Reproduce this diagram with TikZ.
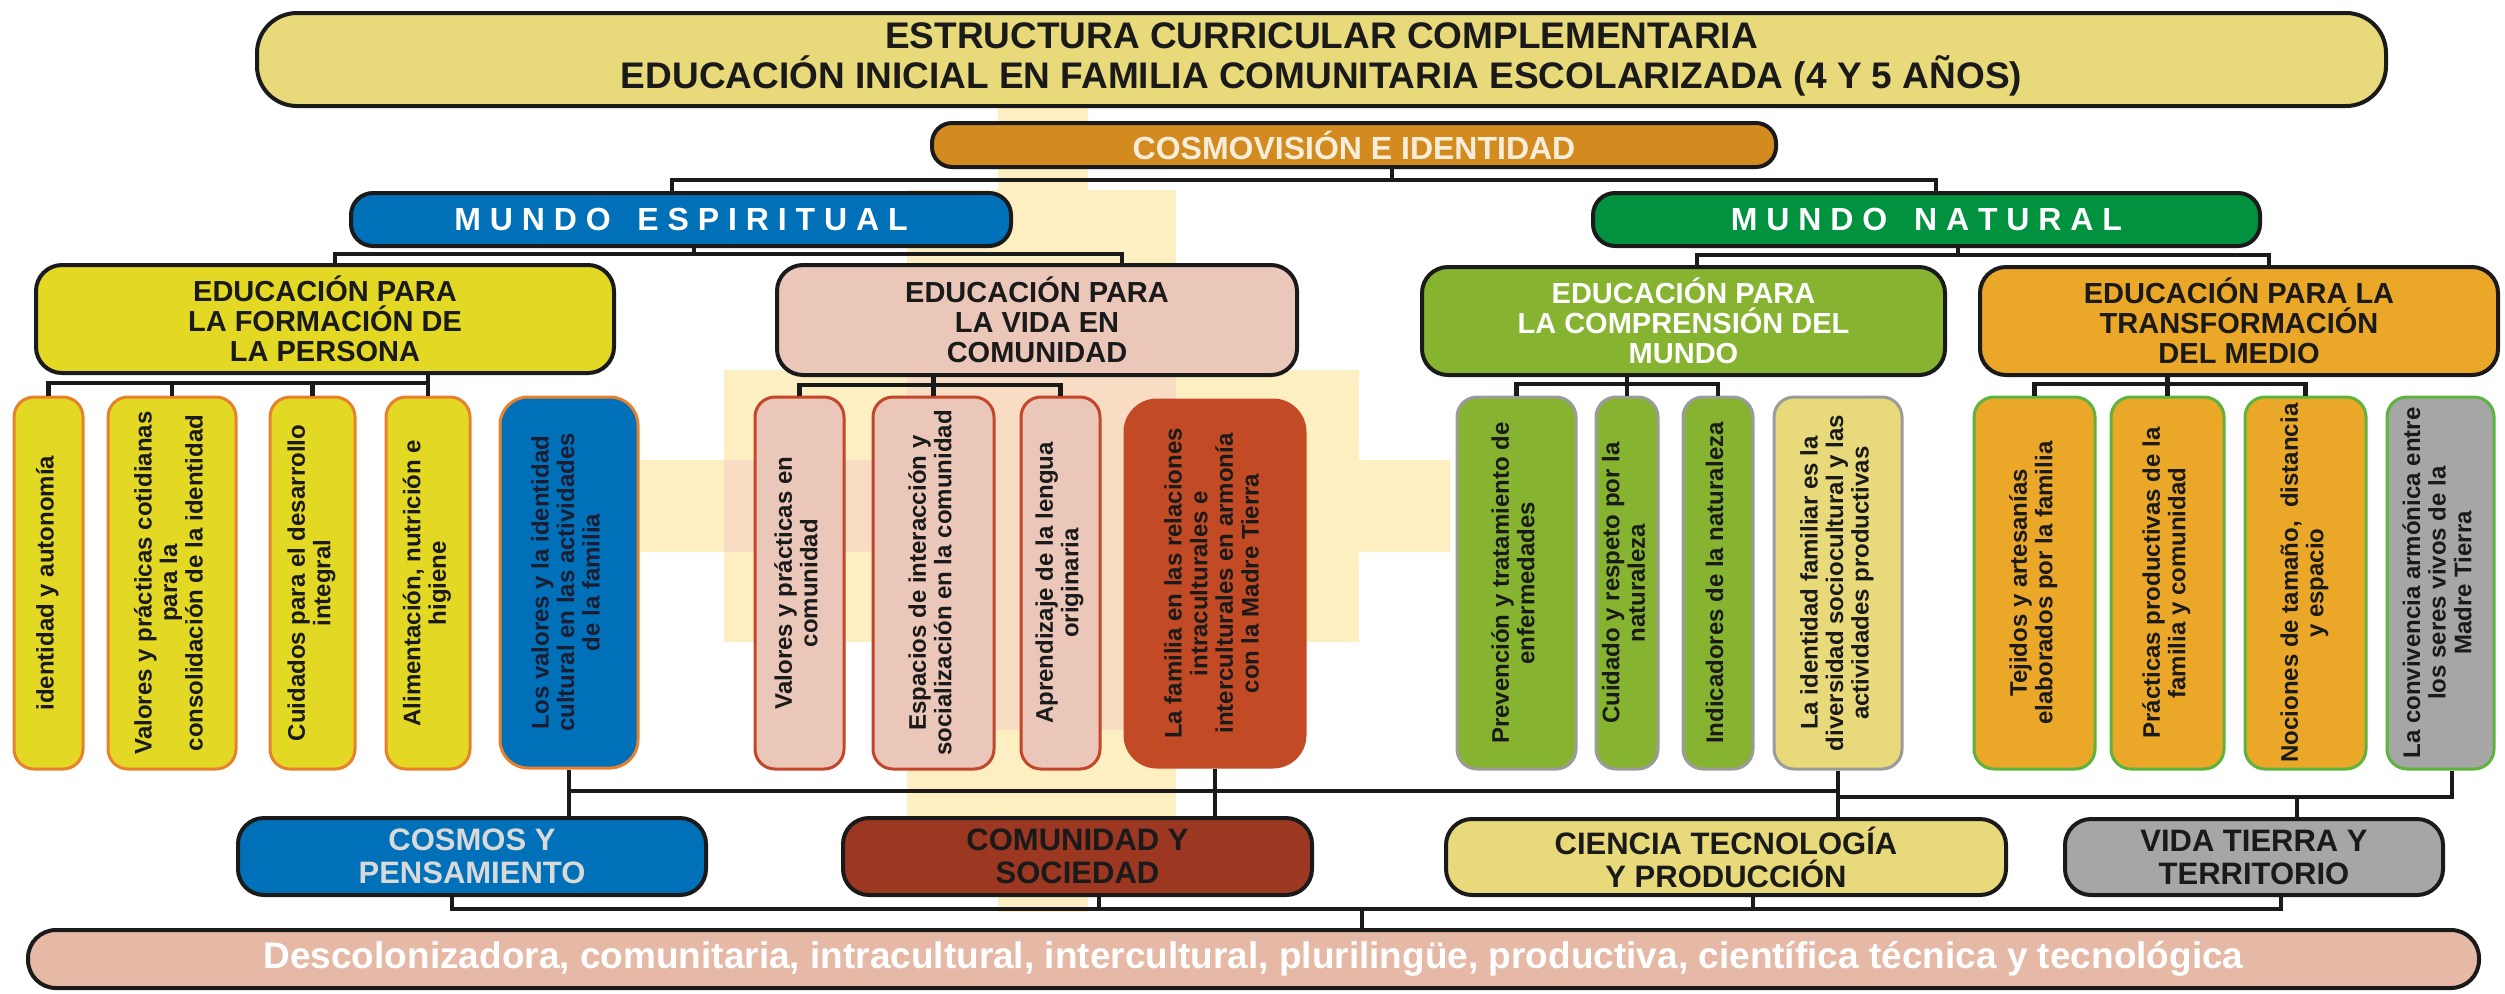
\documentclass[tikz,border=0pt]{standalone}
\usepackage{fontspec}
\usepackage{graphicx}
\setmainfont{Liberation Sans}
\definecolor{ctitle}{HTML}{E8D97A}
\definecolor{ccosmo}{HTML}{D38B1F}
\definecolor{ccream}{HTML}{F6EEDA}
\definecolor{cblue}{HTML}{0071B9}
\definecolor{cgreen}{HTML}{00923F}
\definecolor{cyellow}{HTML}{E3D824}
\definecolor{cpink}{HTML}{EBC7B9}
\definecolor{clime}{HTML}{86B330}
\definecolor{corange}{HTML}{EBA728}
\definecolor{cbord1}{HTML}{E8812C}
\definecolor{cbord2}{HTML}{C4452A}
\definecolor{cred}{HTML}{C24A24}
\definecolor{cbord3}{HTML}{9B9B9B}
\definecolor{cbord4}{HTML}{5DB33C}
\definecolor{cgray}{HTML}{A6A6A6}
\definecolor{cbrown}{HTML}{9C3722}
\definecolor{cband}{HTML}{E6B8A6}
\definecolor{clgray}{HTML}{D9D9D9}
\definecolor{cpale}{HTML}{FDEFC2}
\definecolor{cpalepink}{HTML}{F9DCC4}
\definecolor{cdark}{HTML}{1A1A1A}
\definecolor{cnavy}{HTML}{1B1D33}
\tikzset{
  conn/.style={line width=2.3pt, draw=cdark},
  bbox/.style={draw=cdark, line width=2pt, inner sep=0pt, align=center, text=cdark},
  educ/.style={bbox, rounded corners=13pt, font=\fontsize{14.5}{15}\selectfont\bfseries},
  lowbox/.style={bbox, rounded corners=13pt, font=\fontsize{15.5}{16.5}\selectfont\bfseries},
  mundo/.style={bbox, rounded corners=11pt, text=white, font=\fontsize{16}{17}\selectfont\bfseries},
  pil/.style={line width=1.5pt, rounded corners=10pt, inner sep=0pt, text=cdark,
    font=\fontsize{12}{12.8}\selectfont\bfseries},
}
\newcommand\bx[7]{\node[#6, minimum width={(#4-#2)*0.5pt}, minimum height={(#5-#3)*0.5pt}] (#1) at ({(#2+#4)/2},{(#3+#5)/2}) {#7};}
\newcommand\vt[1]{\rotatebox{90}{\begin{tabular}{@{}c@{}}#1\end{tabular}}}
\begin{document}
\begin{tikzpicture}[x=0.5pt,y=-0.5pt]
\useasboundingbox (0,0) rectangle (2505,993);
% background chakana
\fill[cpale] (998,107) -- (1088,107) -- (1088,190) -- (1176,190) -- (1176,370) -- (1359,370) -- (1359,460) -- (1450,460) -- (1450,552) -- (1359,552) -- (1359,642) -- (1176,642) -- (1176,818) -- (1088,818) -- (1088,912) -- (998,912) -- (998,818) -- (907,818) -- (907,642) -- (724,642) -- (724,552) -- (640,552) -- (640,460) -- (724,460) -- (724,370) -- (907,370) -- (907,190) -- (998,190) -- cycle;
\fill[cpalepink] (907,370) rectangle (1176,730);
\fill[cpalepink] (724,460) rectangle (1176,552);

% title and top levels
\bx{title}{257}{13}{2386}{106}{bbox, fill=ctitle, rounded corners=20pt, font=\fontsize{18.5}{20}\selectfont\bfseries}{ESTRUCTURA CURRICULAR COMPLEMENTARIA\\EDUCACIÓN INICIAL EN FAMILIA COMUNITARIA ESCOLARIZADA (4 Y 5 AÑOS)}
\bx{cosmo}{932}{123}{1776}{167}{bbox, fill=ccosmo, rounded corners=10pt, text=ccream, font=\fontsize{16}{17}\selectfont\bfseries}{COSMOVISIÓN E IDENTIDAD}
\bx{m1}{351}{193}{1011}{246}{mundo, fill=cblue}{M U N D O\ \ \ E S P I R I T U A L}
\bx{m2}{1593}{193}{2260}{246}{mundo, fill=cgreen}{M U N D O\ \ \ N A T U R A L}

\bx{e1}{36}{265}{614}{373}{educ, fill=cyellow}{EDUCACIÓN PARA\\LA FORMACIÓN DE\\LA PERSONA}
\bx{e2}{777}{265}{1297}{375}{educ, fill=cpink}{EDUCACIÓN PARA\\LA VIDA EN\\COMUNIDAD}
\bx{e3}{1422}{267}{1945}{375}{educ, fill=clime, text=white}{EDUCACIÓN PARA\\LA COMPRENSIÓN DEL\\MUNDO}
\bx{e4}{1980}{267}{2498}{375}{educ, fill=corange}{EDUCACIÓN PARA LA\\TRANSFORMACIÓN\\DEL MEDIO}

% pillars
\bx{p1}{14}{397}{83}{769}{pil, fill=cyellow, draw=cbord1}{\vt{identidad y autonomía}}
\bx{p2}{108}{397}{236}{769}{pil, fill=cyellow, draw=cbord1}{\vt{Valores y prácticas cotidianas\\para la\\consolidación de la identidad}}
\bx{p3}{270}{397}{355}{769}{pil, fill=cyellow, draw=cbord1}{\vt{Cuidados para el desarrollo\\integral}}
\bx{p4}{386}{397}{470}{769}{pil, fill=cyellow, draw=cbord1}{\vt{Alimentación, nutrición e\\higiene}}
\bx{p5}{500}{397}{638}{768}{pil, fill=cblue, draw=cbord1, text=cnavy, rounded corners=14pt}{\vt{Los valores y la identidad\\cultural en las actividades\\de la familia}}
\bx{p6}{755}{397}{844}{769}{pil, fill=cpink, draw=cbord2}{\vt{Valores y prácticas en\\comunidad}}
\bx{p7}{873}{397}{994}{769}{pil, fill=cpink, draw=cbord2}{\vt{Espacios de interacción y\\socialización en la comunidad}}
\bx{p8}{1021}{397}{1100}{769}{pil, fill=cpink, draw=cbord2}{\vt{Aprendizaje de la lengua\\originaria}}
\bx{p9}{1125}{400}{1305}{767}{pil, fill=cred, draw=cred, rounded corners=16pt}{\vt{La familia en las relaciones\\intraculturales e\\interculturales en armonía\\con la Madre Tierra}}
\bx{p10}{1457}{397}{1576}{769}{pil, fill=clime, draw=cbord3}{\vt{Prevención y tratamiento de\\enfermedades}}
\bx{p11}{1596}{397}{1658}{769}{pil, fill=clime, draw=cbord3}{\vt{Cuidado y respeto por la\\naturaleza}}
\bx{p12}{1683}{397}{1753}{769}{pil, fill=clime, draw=cbord3}{\vt{Indicadores de la naturaleza}}
\bx{p13}{1774}{397}{1902}{769}{pil, fill=ctitle, draw=cbord3}{\vt{La identidad familiar es la\\diversidad sociocultural y las\\actividades productivas}}
\bx{p14}{1974}{397}{2095}{769}{pil, fill=corange, draw=cbord4}{\vt{Tejidos y artesanías\\elaborados por la familia}}
\bx{p15}{2111}{397}{2224}{769}{pil, fill=corange, draw=cbord4}{\vt{Prácticas productivas de la\\familia y comunidad}}
\bx{p16}{2245}{397}{2366}{769}{pil, fill=corange, draw=cbord4}{\vt{Nociones de tamaño,\ \ distancia\\y espacio}}
\bx{p17}{2387}{397}{2494}{769}{pil, fill=cgray, draw=cbord4}{\vt{La convivencia armónica entre\\los seres vivos de la\\Madre Tierra}}

% lower boxes
\bx{c1}{238}{818}{706}{895}{lowbox, fill=cblue, text=clgray}{COSMOS Y\\PENSAMIENTO}
\bx{c2}{843}{818}{1312}{895}{lowbox, fill=cbrown}{COMUNIDAD Y\\SOCIEDAD}
\bx{c3}{1446}{819}{2006}{895}{lowbox, fill=ctitle}{CIENCIA TECNOLOGÍA\\Y PRODUCCIÓN}
\bx{c4}{2065}{819}{2443}{895}{lowbox, fill=cgray}{VIDA TIERRA Y\\TERRITORIO}
\bx{band}{28}{930}{2479}{988}{bbox, fill=cband, rounded corners=14pt, text=white, font=\fontsize{18.5}{20}\selectfont\bfseries}{Descolonizadora, comunitaria, intracultural, intercultural, plurilingüe, productiva, científica técnica y tecnológica}

% connectors: top
\coordinate (t1) at (672,180);
\coordinate (t2) at (1936,180);
\draw[conn] (cosmo.south -| 1392,0) -- (1392,180);
\draw[conn] (m1.north -| t1) -- (t1) -- (t2) -- (m2.north -| t2);
\coordinate (u1) at (335,254);
\coordinate (u2) at (1122,254);
\draw[conn] (m1.south -| 694,0) -- (694,254);
\draw[conn] (e1.north -| u1) -- (u1) -- (u2) -- (e2.north -| u2);
\coordinate (u3) at (1697,255);
\coordinate (u4) at (2269,255);
\draw[conn] (m2.south -| 1958,0) -- (1958,255);
\draw[conn] (e3.north -| u3) -- (u3) -- (u4) -- (e4.north -| u4);

% educ to pillars
\coordinate (r1) at (0,383);
\draw[conn] (p1.north) |- (p4.north |- r1) -- (p4.north);
\draw[conn] (e1.south -| p4.north) -- (p4.north |- r1);
\draw[conn] (p2.north) -- (p2.north |- r1);
\draw[conn] (p3.north) -- (p3.north |- r1);
\coordinate (r2) at (0,385);
\draw[conn] (p6.north) |- (p8.north |- r2) -- (p8.north);
\draw[conn] (e2.south -| p7.north) -- (p7.north);
\coordinate (r3) at (0,384);
\draw[conn] (p10.north) |- (p12.north |- r3) -- (p12.north);
\draw[conn] (e3.south -| p11.north) -- (p11.north);
\coordinate (r4) at (0,384);
\draw[conn] (p14.north) |- (p16.north |- r4) -- (p16.north);
\draw[conn] (e4.south -| p15.north) -- (p15.north);

% pillars to lower boxes
\coordinate (s1) at (0,791);
\coordinate (s3) at (0,797);
\coordinate (s4) at (2452,797);
\draw[conn] (p5.south) -- (c1.north -| p5.south);
\draw[conn] (p9.south) -- (c2.north -| p9.south);
\draw[conn] (p13.south) -- (c3.north -| p13.south);
\draw[conn] (p5.south |- s1) -- (p13.south |- s1);
\draw[conn] (p13.south |- s3) -- (s4) -- (p17.south -| s4);
\draw[conn] (c4.north -| 2297,0) -- (2297,797);

% lower boxes to band
\coordinate (j) at (1362,909);
\draw[conn] (c1.south -| 452,0) -- (452,909) -- (2281,909) -- (c4.south -| 2281,0);
\draw[conn] (c2.south -| 1099,0) -- (1099,909);
\draw[conn] (c3.south -| 1753,0) -- (1753,909);
\draw[conn] (j) -- (band.north -| j);
\end{tikzpicture}
\end{document}
